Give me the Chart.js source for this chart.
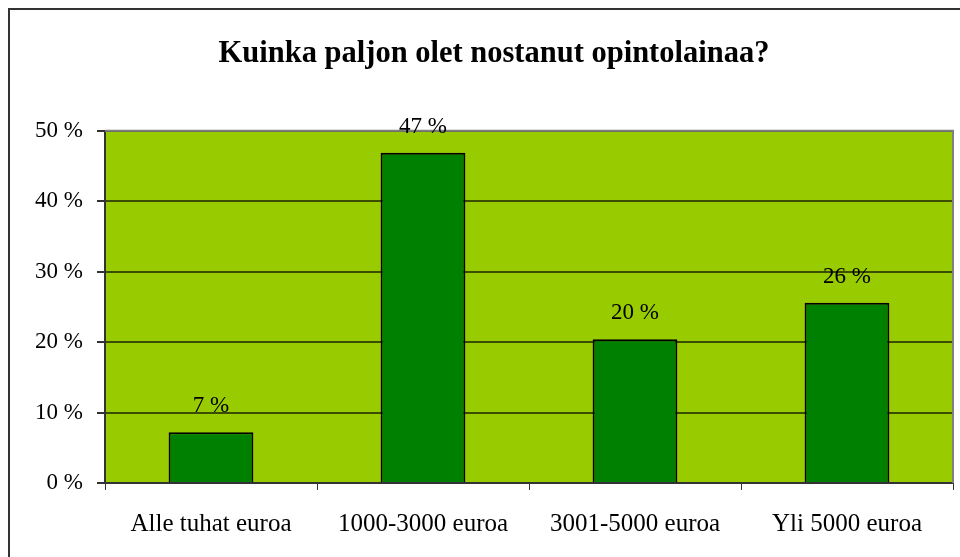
<!DOCTYPE html>
<html>
<head>
<meta charset="utf-8">
<script src="https://cdn.jsdelivr.net/npm/chart.js@4"></script>
<style>
body{margin:0;background:#fff;}
#wrap{position:relative;width:960px;height:557px;}
</style>
</head>
<body>
<div id="wrap"><canvas id="c" width="960" height="557"></canvas></div>
<script>
// data
const categories = ["Alle tuhat euroa", "1000-3000 euroa", "3001-5000 euroa", "Yli 5000 euroa"];
const shares = [7.2, 46.9, 20.4, 25.6];
const yTicks = [0, 10, 20, 30, 40, 50];

const FONT = "'Liberation Serif', 'Times New Roman', serif";

// frame + green plot background
const backdrop = {
    id: "backdrop",
    beforeDraw(chart){
        const c = chart.ctx, a = chart.chartArea;
        c.save();
        c.strokeStyle = "#333";
        c.lineWidth = 2;
        c.strokeRect(9, 9, 1000, 1000);
        c.fillStyle = "#99cc00";
        c.fillRect(a.left, a.top, a.right - a.left, a.bottom - a.top);
        c.restore();
    },
    afterDatasetsDraw(chart){
        const c = chart.ctx, a = chart.chartArea;
        c.save();
        // grey top/right border of plot area
        c.strokeStyle = "#808080";
        c.lineWidth = 2;
        c.beginPath();
        c.moveTo(a.left, a.top);
        c.lineTo(a.right, a.top);
        c.lineTo(a.right, a.bottom);
        c.stroke();
        // value labels
        c.fillStyle = "#000";
        c.font = "23px " + FONT;
        c.textAlign = "center";
        c.textBaseline = "middle";
        chart.getDatasetMeta(0).data.forEach((bar, i) => {
            c.fillText(Math.round(shares[i]) + " %", bar.x, bar.y - 26);
        });
        c.restore();
    }
};

new Chart(document.getElementById("c"), {
    type: "bar",
    data: {
        labels: categories,
        datasets: [{
            data: shares,
            backgroundColor: "#008000",
            borderColor: "#000",
            borderWidth: 2,
            categoryPercentage: 1,
            barPercentage: 0.4
        }]
    },
    options: {
        responsive: false,
        animation: false,
        layout: {padding: {left: 35, right: 7, top: 0, bottom: 0}},
        plugins: {
            legend: {display: false},
            tooltip: {enabled: false},
            title: {
                display: true,
                text: "Kuinka paljon olet nostanut opintolainaa?",
                color: "#000",
                font: {family: FONT, size: 30.5, weight: "bold"},
                padding: {top: 35.5, bottom: 58.7}
            }
        },
        scales: {
            x: {
                grid: {drawOnChartArea: false, drawTicks: true, tickLength: 7, color: "#333", offset: true},
                border: {color: "#333", width: 2},
                ticks: {color: "#000", font: {family: FONT, size: 25}, padding: 19, maxRotation: 0},
                afterFit(s){ s.height = 74; }
            },
            y: {
                min: 0,
                max: 50,
                afterBuildTicks(s){ s.ticks = yTicks.map(v => ({value: v})); },
                grid: {color: "#3b4d00", lineWidth: 2, tickLength: 8, tickColor: "#333"},
                border: {color: "#333", width: 2},
                ticks: {color: "#000", font: {family: FONT, size: 23}, padding: 14,
                        callback: v => v + " %"},
                afterFit(s){ s.width = 70; }
            }
        }
    },
    plugins: [backdrop]
});
</script>
</body>
</html>
